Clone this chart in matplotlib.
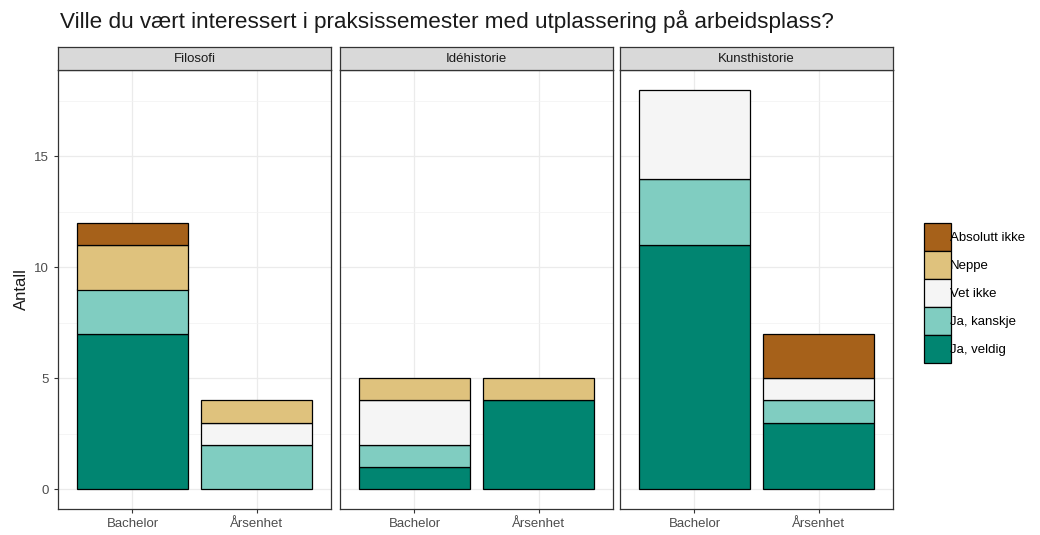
import matplotlib
matplotlib.use('Agg')
import matplotlib.pyplot as plt
from matplotlib.patches import Patch
import numpy as np

plt.rcParams['font.family'] = ['Liberation Sans', 'DejaVu Sans']

# Svarkategorier (nederst -> øverst i stabelen)
svar = ["Ja, veldig", "Ja, kanskje", "Vet ikke", "Neppe", "Absolutt ikke"]
farger = ["#018571", "#80CDC1", "#F5F5F5", "#DFC27D", "#A6611A"]

fag = ["Filosofi", "Idéhistorie", "Kunsthistorie"]
grupper = ["Bachelor", "Årsenhet"]

# Antall per fag: rader = svar, kolonner = [Bachelor, Årsenhet]
filosofi = [[7, 0], [2, 2], [0, 1], [2, 1], [1, 0]]
idehistorie = [[1, 4], [1, 0], [2, 0], [1, 1], [0, 0]]
kunsthistorie = [[11, 3], [3, 1], [4, 1], [0, 0], [0, 2]]
data = [filosofi, idehistorie, kunsthistorie]

fig = plt.figure(figsize=(10.4, 5.35), dpi=100)

venstre = [58, 340, 620]
bredde = 273
bunn_px, topp_px, strip_px = 509, 70, 23
H, W = 535, 1040

ymax = 18 * 1.05
ymin = -18 * 0.05

for i, (navn, tabell) in enumerate(zip(fag, data)):
    ax = fig.add_axes([venstre[i] / W, 1 - bunn_px / H, bredde / W, (bunn_px - topp_px) / H])
    x = np.arange(1, len(grupper) + 1)
    bunn = np.zeros(len(grupper))
    for rad, farge in zip(tabell, farger):
        v = np.array(rad, dtype=float)
        mask = v > 0
        ax.bar(x[mask], v[mask], bottom=bunn[mask], width=0.9, color=farge,
               edgecolor='black', linewidth=0.9, zorder=3)
        bunn += v
    ax.set_xlim(0.4, 2.6)
    ax.set_ylim(ymin, ymax)
    ax.set_xticks(x)
    ax.set_xticklabels(grupper)
    ax.set_yticks([0, 5, 10, 15])
    ax.set_yticks([2.5, 7.5, 12.5, 17.5], minor=True)
    ax.grid(True, which='major', color='#EBEBEB', linewidth=0.9, zorder=0)
    ax.grid(True, which='minor', axis='y', color='#F2F2F2', linewidth=0.5, zorder=0)
    ax.tick_params(axis='both', which='major', color='#333333', length=3, width=0.8,
                   labelcolor='#4D4D4D', labelsize=9.5)
    ax.tick_params(axis='both', which='minor', length=0)
    if i == 0:
        ax.set_ylabel("Antall", fontsize=12, color='#1A1A1A')
    else:
        ax.set_yticklabels([])
        ax.tick_params(axis='y', which='major', length=0)
    for s in ax.spines.values():
        s.set_color('#333333')
        s.set_linewidth(0.9)

    # Fasett-stripe over panelet
    sax = fig.add_axes([venstre[i] / W, 1 - topp_px / H, bredde / W, strip_px / H])
    sax.set_facecolor('#D9D9D9')
    sax.set_xticks([])
    sax.set_yticks([])
    for s in sax.spines.values():
        s.set_color('#333333')
        s.set_linewidth(0.9)
    sax.text(0.5, 0.5, navn, ha='center', va='center', fontsize=9.5, color='#1A1A1A',
             transform=sax.transAxes)

fig.text(60 / W, 1 - 21 / H, "Ville du vært interessert i praksissemester med utplassering på arbeidsplass?",
         fontsize=16.2, ha='left', va='center', color='#1A1A1A')

handles = [Patch(facecolor=f, edgecolor='black', linewidth=0.9) for f in farger][::-1]
fig.legend(handles, svar[::-1], loc='center left', bbox_to_anchor=(924 / W, 1 - 293 / H),
           frameon=False, handlelength=2.05, handleheight=2.9, labelspacing=0.0,
           handletextpad=-0.1, fontsize=9.5, borderpad=0, borderaxespad=0)

fig.savefig('out.png', dpi=100)
